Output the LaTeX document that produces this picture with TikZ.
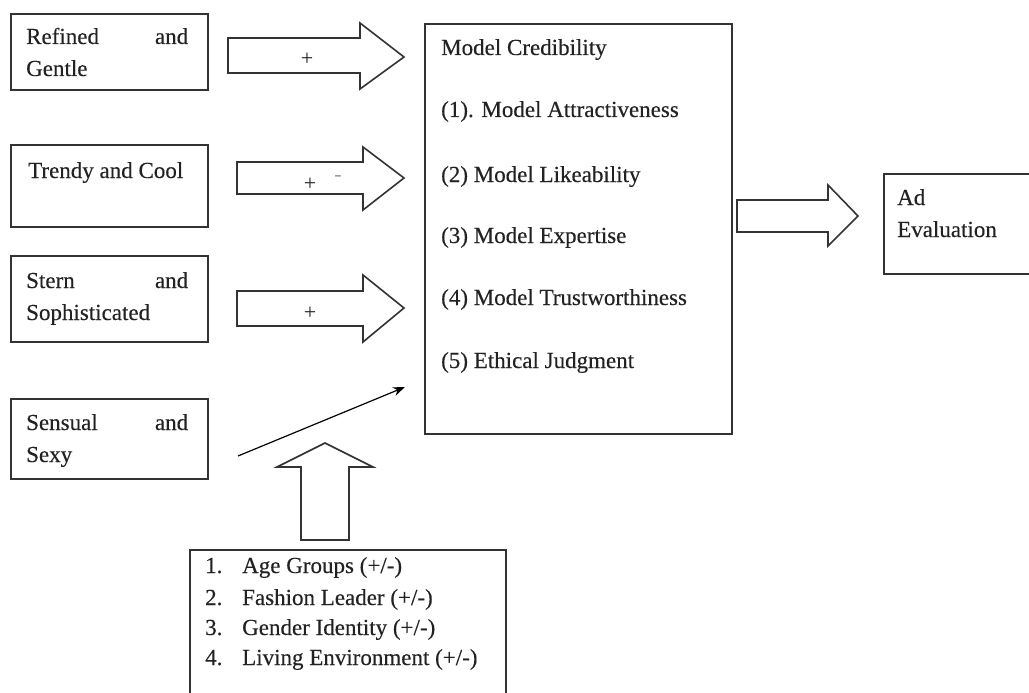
\documentclass[tikz,border=0pt]{standalone}
\usepackage{fontspec}
\setmainfont{Liberation Serif}
\newfontfamily\reffont[BoldFont={Liberation Serif}, BoldFeatures={FakeBold=0.25}]{Liberation Serif}
\usetikzlibrary{arrows.meta}
\definecolor{linec}{HTML}{333333}
\definecolor{textc}{HTML}{222222}
\begin{document}
\begin{tikzpicture}[x=1pt,y=-1pt,
  box/.style={draw=linec, line width=1.6pt, inner sep=0pt, anchor=north west},
  txt/.style={anchor=base west, inner sep=0pt, text=textc, font=\reffont\fontsize{23}{28}\selectfont\bfseries},
  sgn/.style={anchor=center, inner sep=0pt, text=textc, font=\fontsize{22}{24}\selectfont},
  blk/.style={draw=linec, line width=1.6pt, fill=white, line join=miter},
  thin/.style={draw=black, line width=1.2pt, -{Stealth[length=12pt,width=9pt]}}]
\useasboundingbox (0,0) rectangle (1029,693);
\clip (0,0) rectangle (1029,693);
\fill[white] (0,0) rectangle (1029,693);
% left boxes
\node[box, minimum width=197pt, minimum height=76pt] (b1) at (10,13) {};
\node[box, minimum width=197pt, minimum height=82pt] (b2) at (10,144) {};
\node[box, minimum width=197pt, minimum height=86pt] (b3) at (10,255) {};
\node[box, minimum width=197pt, minimum height=80pt] (b4) at (10,398) {};
\node[txt] (t1a) at (26,44) {\makebox[162pt][l]{Refined\hfill and}};
\node[txt] (t1b) at (26,76) {Gentle};
\node[txt] (t2a) at (28,178) {Trendy and Cool};
\node[txt] (t3a) at (26,288) {\makebox[162pt][l]{Stern\hfill and}};
\node[txt] (t3b) at (26,320) {Sophisticated};
\node[txt] (t4a) at (26,430) {\makebox[162pt][l]{Sensual\hfill and}};
\node[txt] (t4b) at (26,462) {Sexy};
% main box
\node[box, minimum width=307pt, minimum height=410pt] (main) at (424,23) {};
\node[txt] (m0) at (441,55) {Model Credibility};
\node[txt] (m1) at (441,117) {(1). Model Attractiveness};
\node[txt] (m2) at (441,182) {(2) Model Likeability};
\node[txt] (m3) at (441,243) {(3) Model Expertise};
\node[txt] (m4) at (441,305) {(4) Model Trustworthiness};
\node[txt] (m5) at (441,368) {(5) Ethical Judgment};
% ad evaluation box
\node[box, minimum width=180pt, minimum height=100pt] (ad) at (883,173) {};
\node[txt] (ad1) at (897,205) {Ad};
\node[txt] (ad2) at (897,237) {Evaluation};
% bottom box
\node[box, minimum width=316pt, minimum height=170pt] (mod) at (189,549) {};
\node[txt] (n1) at (205,573) {1.};
\node[txt] (l1) at (242,573) {Age Groups (+/-)};
\node[txt] (n2) at (205,605) {2.};
\node[txt] (l2) at (242,605) {Fashion Leader (+/-)};
\node[txt] (n3) at (205,635) {3.};
\node[txt] (l3) at (242,635) {Gender Identity (+/-)};
\node[txt] (n4) at (205,665) {4.};
\node[txt] (l4) at (242,665) {Living Environment (+/-)};
% block arrows
\draw[blk] (228,38) -- (360,38) -- (360,23) -- (404,57) -- (360,89) -- (360,73) -- (228,73) -- cycle;
\draw[blk] (237,162) -- (363,162) -- (363,147) -- (404,178) -- (363,210) -- (363,194) -- (237,194) -- cycle;
\draw[blk] (237,291) -- (363,291) -- (363,275) -- (404,308) -- (363,342) -- (363,326) -- (237,326) -- cycle;
\draw[blk] (737,200) -- (828,200) -- (828,185) -- (858,216) -- (828,246) -- (828,232) -- (737,232) -- cycle;
\draw[blk] (301,540) -- (301,467) -- (277,467) -- (325,443) -- (373,467) -- (349,467) -- (349,540) -- cycle;
\node[sgn] (p1) at (307,59) {+};
\node[sgn] (p2) at (310,184) {+};
\node[sgn, text=textc!45] (p2m) at (338,178) {-};
\node[sgn] (p3) at (310,313) {+};
% thin arrow
\coordinate (s4) at (238,456);
\coordinate (e4) at (405,387);
\draw[thin] (s4) -- (e4);
\end{tikzpicture}
\end{document}
